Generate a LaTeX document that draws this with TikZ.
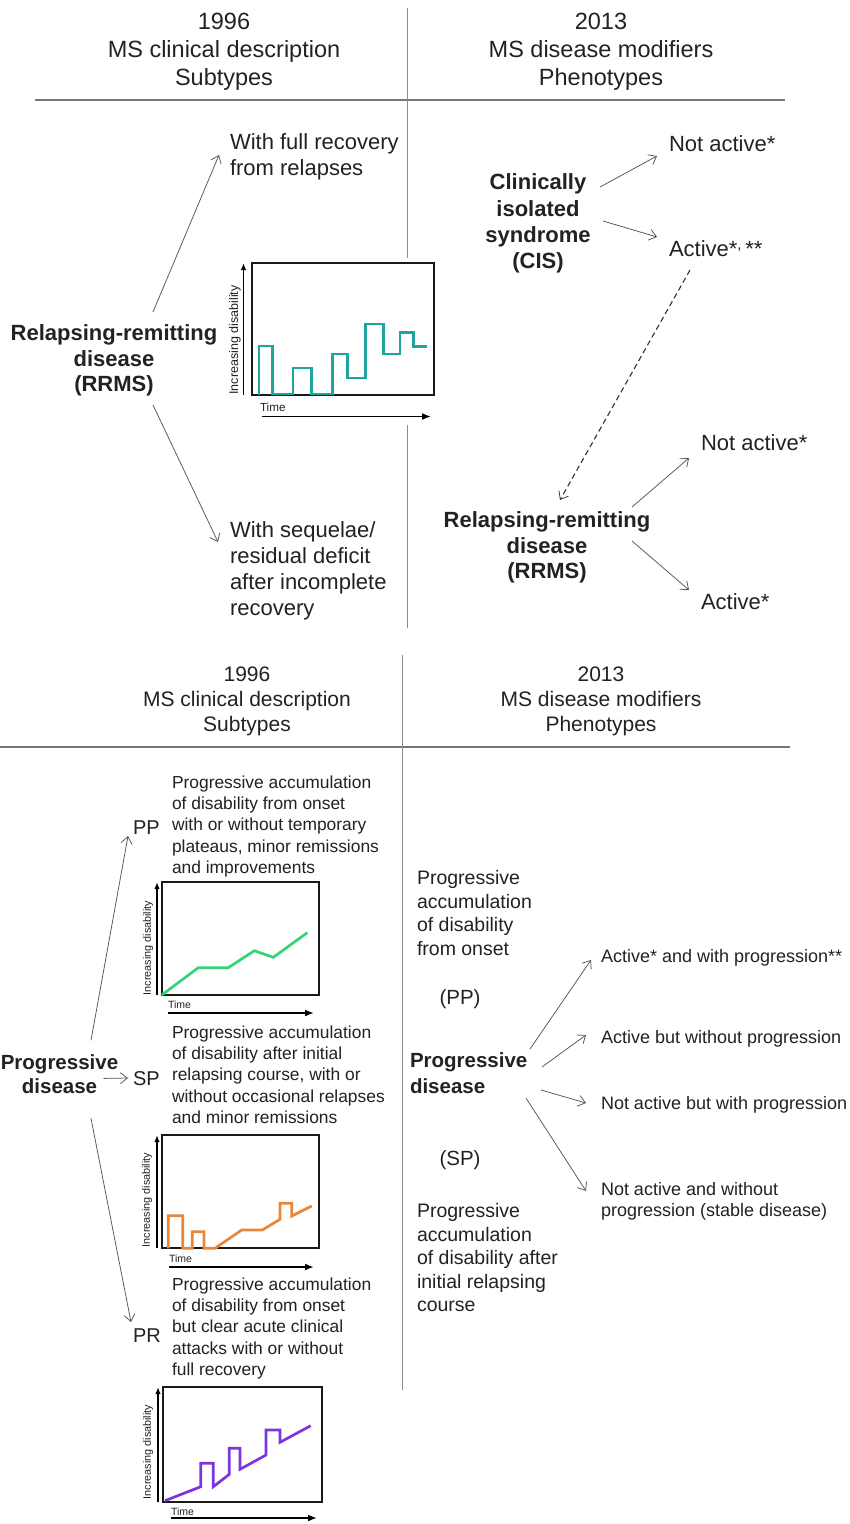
\documentclass[tikz,border=0pt]{standalone}
\usepackage{fontspec}
\setmainfont{Liberation Sans}
\usetikzlibrary{arrows.meta}
\definecolor{txt}{HTML}{222222}
\definecolor{rulec}{HTML}{8C8C8C}
\definecolor{arrc}{HTML}{555555}
\definecolor{cteal}{HTML}{1FA59E}
\definecolor{cgreen}{HTML}{35D27A}
\definecolor{corange}{HTML}{E8873A}
\definecolor{cpurple}{HTML}{7A35E0}
\newcommand{\fsz}[2]{\fontsize{#1}{#2}\selectfont}
\begin{document}
\begin{tikzpicture}[x=1pt,y=-1pt,
  every node/.style={inner sep=0pt, outer sep=0pt, text=txt},
  hdrtop/.style={font=\fsz{23.5}{28}, align=center},
  hdrbot/.style={font=\fsz{21}{25}, align=center},
  big/.style={font=\fsz{22}{26}, align=left},
  bigb/.style={font=\bfseries\fsz{22}{25.5}, align=center},
  descs/.style={font=\fsz{17.4}{21.3}, align=left},
  descm/.style={font=\fsz{19.5}{23.4}, align=left},
  boldm/.style={font=\bfseries\fsz{20.5}{25}, align=left},
  codel/.style={font=\fsz{20}{24}},
  pheno/.style={font=\fsz{18}{21.5}, align=left},
  axlab/.style={font=\fsz{#1}{#1}},
  conn/.style={draw=arrc, line width=0.75pt, -{Straight Barb[length=7pt,width=11pt,line width=0.75pt]}},
  dashconn/.style={conn, draw=black!80, line width=1.1pt, dash pattern=on 5.5pt off 3.5pt},
  rulel/.style={draw=rulec, line width=1pt},
  framebox/.style={draw=black!90, line width=1.9pt},
  axisarr/.style={draw=black, line width=1.7pt, -{Latex[length=7pt,width=5.5pt]}},
  timearr/.style={draw=black, line width=1.7pt, -{Latex[length=9pt,width=7pt]}},
  curve/.style={line width=2.7pt, line join=miter}
]
\fill[white] (0,0) rectangle (850,1524);
\useasboundingbox (0,0) rectangle (850,1524);

% ---------------- top section ----------------
\node[hdrtop, anchor=north] (h96a) at (224,13.3) {1996\\MS clinical description\\Subtypes};
\node[hdrtop, anchor=north] (h13a) at (601,13.3) {2013\\MS disease modifiers\\Phenotypes};
\draw[rulel, line width=1.3pt, draw=rulec!85!black] (35,100) -- (785,100);
\draw[rulel] (407,8) -- (407,628);

\node[bigb, anchor=north] (rrL) at (114,325) {Relapsing-remitting\\disease\\(RRMS)};
\node[big, anchor=north west] (full) at (230,134) {With full recovery\\from relapses};
\node[big, anchor=north west] (seq) at (230,522) {With sequelae/\\residual deficit\\after incomplete\\recovery};
\draw[conn] ([shift={(39,-13)}]rrL.north) -- ([shift={(-11,21)}]full.north west);
\draw[conn] ([shift={(39,80)}]rrL.north) -- ([shift={(-12,20)}]seq.north west);

% chart 1 (RRMS)
\fill[white] (226,258) rectangle (438,425);
\draw[framebox] (252,263) rectangle (434,395);
\draw[axisarr] (243.5,395) -- (243.5,263);
\node[axlab=12.5, rotate=90] (yl1) at (235,340) {Increasing disability};
\node[axlab=11.7, anchor=base west] (tl1) at (260,411.5) {Time};
\draw[timearr] (262,416.5) -- (431,416.5);
\draw[curve, cteal] (259,395) -- (259,346) -- (272.7,346) -- (272.7,394) -- (293,394) -- (293,368)
  -- (311.7,368) -- (311.7,394) -- (332.7,394) -- (332.7,354) -- (347.7,354) -- (347.7,378)
  -- (365.7,378) -- (365.7,324) -- (383.3,324) -- (383.3,354) -- (400,354) -- (400,332.7)
  -- (413.3,332.7) -- (413.3,346.7) -- (426.7,346.7);

\node[bigb, font=\bfseries\fsz{22}{26.3}, anchor=north] (cis) at (538,174) {Clinically\\isolated\\syndrome\\(CIS)};
\node[big, anchor=base west] (na1) at (669,151) {Not active*};
\node[big, anchor=base west] (ac1) at (669,256) {Active*\raisebox{0.28em}{\fsz{15}{15},}\,**};
\draw[conn] ([shift={(62,13)}]cis.north) -- ([shift={(-12,5)}]na1.base west);
\draw[conn] ([shift={(65,47)}]cis.north) -- ([shift={(-12,-19)}]ac1.base west);

\node[bigb, anchor=north] (rrR) at (547,512) {Relapsing-remitting\\disease\\(RRMS)};
\draw[dashconn] ([shift={(21,14)}]ac1.base west) -- ([shift={(13,-12)}]rrR.north);
\node[big, anchor=base west] (na2) at (701,450) {Not active*};
\node[big, anchor=base west] (ac2) at (701,609) {Active*};
\draw[conn] ([shift={(85,-5)}]rrR.north) -- ([shift={(-12,8)}]na2.base west);
\draw[conn] ([shift={(85,29)}]rrR.north) -- ([shift={(-12,-19)}]ac2.base west);

% ---------------- bottom section ----------------
\node[hdrbot, anchor=north] (h96b) at (247,667.2) {1996\\MS clinical description\\Subtypes};
\node[hdrbot, anchor=north] (h13b) at (601,667.2) {2013\\MS disease modifiers\\Phenotypes};
\draw[rulel, line width=1.3pt, draw=rulec!85!black] (0,747) -- (790,747);
\draw[rulel] (402,655) -- (402,1390);

\node[font=\bfseries\fsz{20.5}{24.5}, align=center, anchor=north] (pd1) at (59.5,1054.4) {Progressive\\disease};
\node[codel, anchor=base west] (pp) at (133,834) {PP};
\node[codel, anchor=base west] (sp) at (133,1085) {SP};
\node[codel, anchor=base west] (pr) at (133,1342) {PR};
\draw[conn] ([shift={(31.5,-14)}]pd1.north) -- ([shift={(-5,2)}]pp.base west);
\draw[conn] ([shift={(44,24)}]pd1.north) -- ([shift={(-5,-7)}]sp.base west);
\draw[conn] ([shift={(31.5,64)}]pd1.north) -- ([shift={(-2,-20)}]pr.base west);

\node[descs, anchor=north west] (ppd) at (172,775.6) {Progressive accumulation\\of disability from onset\\with or without temporary\\plateaus, minor remissions\\and improvements};
\node[descs, anchor=north west] (spd) at (172,1025.6) {Progressive accumulation\\of disability after initial\\relapsing course, with or\\without occasional relapses\\and minor remissions};
\node[descs, anchor=north west] (prd) at (172,1277.6) {Progressive accumulation\\of disability from onset\\but clear acute clinical\\attacks with or without\\full recovery};

% chart PP
\draw[framebox] (161.7,882) rectangle (319,995);
\draw[axisarr] (157,995) -- (157,882);
\node[axlab=10.8, rotate=90] (yl2) at (148,948) {Increasing disability};
\node[axlab=10.5, anchor=base west] (tl2) at (168,1008.8) {Time};
\draw[timearr] (168,1013) -- (314,1013);
\draw[curve, cgreen] (161.7,995) -- (198.3,967.7) -- (228.3,967.7) -- (254.3,950.7) -- (273.3,957.3) -- (307.3,932.7);

% chart SP
\draw[framebox] (161.7,1135) rectangle (319,1248);
\draw[axisarr] (157,1248) -- (157,1135);
\node[axlab=10.8, rotate=90] (yl3) at (147,1200) {Increasing disability};
\node[axlab=10.5, anchor=base west] (tl3) at (169,1262) {Time};
\draw[timearr] (169,1267) -- (314,1267);
\draw[curve, corange] (168.3,1248.3) -- (168.3,1215.7) -- (182.7,1215.7) -- (182.7,1248.3) -- (192.3,1248.3)
  -- (192.3,1231.7) -- (204,1231.7) -- (204,1248.3) -- (215,1248.3) -- (241.7,1230) -- (262.3,1230)
  -- (280,1219.3) -- (280,1203.3) -- (291.7,1203.3) -- (291.7,1216) -- (311.7,1206);

% chart PR
\draw[framebox] (163,1387) rectangle (322,1502);
\draw[axisarr] (158,1502) -- (158,1387);
\node[axlab=10.8, rotate=90] (yl4) at (148,1452) {Increasing disability};
\node[axlab=10.5, anchor=base west] (tl4) at (171,1515) {Time};
\draw[timearr] (171,1518) -- (317,1518);
\draw[curve, cpurple] (165,1500.7) -- (200.7,1486.7) -- (200.7,1463.3) -- (213.3,1463.3) -- (213.3,1486.7)
  -- (229.3,1474.3) -- (229.3,1448.3) -- (240,1448.3) -- (240,1469.3) -- (266,1455) -- (266,1430)
  -- (280,1430) -- (280,1442.3) -- (310.7,1425.7);

% right side bottom
\node[descm, anchor=north west] (ppr) at (417,870.8) {Progressive\\accumulation\\of disability\\from onset};
\node[descm, font=\fsz{20.5}{24}, anchor=base] (ppl) at (460,1004.4) {(PP)};
\node[boldm, font=\bfseries\fsz{20.5}{26}, anchor=north west] (pd2) at (410,1052.4) {Progressive\\disease};
\node[descm, font=\fsz{20.5}{24}, anchor=base] (spl) at (460,1165.4) {(SP)};
\node[descm, anchor=north west] (spr) at (417,1203.8) {Progressive\\accumulation\\of disability after\\initial relapsing\\course};

\node[pheno, anchor=base west] (a1) at (601,962.5) {Active* and with progression**};
\node[pheno, anchor=base west] (a2) at (601,1043.5) {Active but without progression};
\node[pheno, anchor=base west] (a3) at (601,1109.5) {Not active but with progression};
\node[pheno, anchor=north west] (a4) at (601,1182.3) {Not active and without\\progression (stable disease)};
\draw[conn] ([shift={(120,-3.4)}]pd2.north west) -- ([shift={(-10,-2.5)}]a1.base west);
\draw[conn] ([shift={(132,14.6)}]pd2.north west) -- ([shift={(-15,-8.5)}]a2.base west);
\draw[conn] ([shift={(131,37.6)}]pd2.north west) -- ([shift={(-15,-6.5)}]a3.base west);
\draw[conn] ([shift={(116,45.6)}]pd2.north west) -- ([shift={(-15,8.7)}]a4.north west);
\end{tikzpicture}
\end{document}
